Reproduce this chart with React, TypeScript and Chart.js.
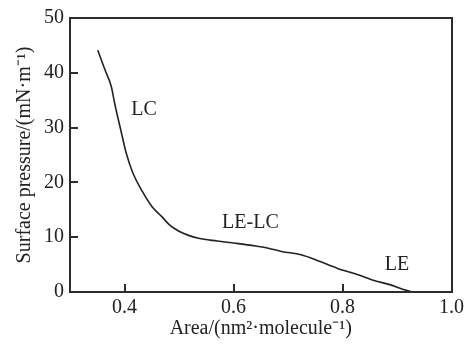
import React, { useEffect, useRef } from "react";
import { Chart, registerables } from "chart.js";

Chart.register(...registerables);

const areas = [0.351, 0.364, 0.376, 0.382, 0.394, 0.403, 0.415, 0.433, 0.451, 0.468, 0.482, 0.5, 0.536, 0.57, 0.603, 0.64, 0.664, 0.688, 0.724, 0.755, 0.791, 0.827, 0.858, 0.888, 0.91, 0.925, 0.94, 0.965];
const pressures = [44.1, 40.6, 37.4, 34.4, 29.2, 25.4, 21.8, 18.3, 15.5, 13.8, 12.3, 11.1, 9.8, 9.3, 8.9, 8.4, 8.0, 7.4, 6.8, 5.7, 4.3, 3.2, 2.1, 1.3, 0.5, 0.1, 0, 0];

const xTickValues = [0.4, 0.6, 0.8, 1.0];
const yTickValues = [0, 10, 20, 30, 40, 50];

const phaseLabels = ["LC", "LE-LC", "LE"];
const phaseX = [0.436, 0.631, 0.9];
const phaseY = [33.2, 12.7, 5.0];

const xTitle = "Area/(nm\u00B2\u00B7molecule\u207B\u00B9)";
const yTitle = "Surface pressure/(mN\u00B7m\u207B\u00B9)";

const FONT = "'Liberation Serif', 'Times New Roman', serif";
const INK = "#222222";
const FRAME = "#2e2a30";

const framePlugin = {
  id: "frameTicks",
  afterDraw(chart: any) {
    const ctx = chart.ctx;
    const area = chart.chartArea;
    const xs = chart.scales.x;
    const ys = chart.scales.y;
    const L = Math.round(area.left);
    const R = Math.round(area.right);
    const T = Math.round(area.top);
    const B = Math.round(area.bottom);
    const w = 2;
    ctx.save();
    ctx.globalAlpha = 1;
    ctx.globalCompositeOperation = "source-over";
    ctx.fillStyle = FRAME;
    ctx.fillRect(L - 1, T - 1, R - L + w, w);
    ctx.fillRect(L - 1, B - 1, R - L + w, w);
    ctx.fillRect(L - 1, T - 1, w, B - T + w);
    ctx.fillRect(R - 1, T - 1, w, B - T + w);
    xTickValues.forEach((v) => {
      const px = Math.round(xs.getPixelForValue(v));
      ctx.fillRect(px - 1, B - 8, w, 8);
    });
    yTickValues.forEach((v) => {
      const py = Math.round(ys.getPixelForValue(v));
      ctx.fillRect(L, py - 1, 8, w);
    });
    ctx.fillStyle = INK;
    ctx.font = `20px ${FONT}`;
    ctx.textAlign = "center";
    ctx.textBaseline = "middle";
    phaseLabels.forEach((lab, i) => {
      ctx.fillText(lab, xs.getPixelForValue(phaseX[i]), ys.getPixelForValue(phaseY[i]));
    });
    ctx.restore();
  },
};

export default function App() {
  const ref = useRef<HTMLCanvasElement | null>(null);
  useEffect(() => {
    if (!ref.current) return;
    const chart = new Chart(ref.current, {
      type: "line",
      data: {
        datasets: [
          {
            data: areas.map((a, i) => ({ x: a, y: pressures[i] })),
            borderColor: INK,
            borderWidth: 1.6,
            pointRadius: 0,
            tension: 0.3,
            cubicInterpolationMode: "monotone",
            fill: false,
            clip: 4,
          },
        ],
      },
      options: {
        animation: false,
        responsive: true,
        maintainAspectRatio: false,
        layout: { padding: { top: 8, right: 14, left: 0, bottom: 0 } },
        plugins: { legend: { display: false }, tooltip: { enabled: false } },
        scales: {
          x: {
            type: "linear",
            min: 0.3,
            max: 1.0,
            afterBuildTicks: (s: any) => {
              s.ticks = xTickValues.map((v) => ({ value: v }));
            },
            afterFit: (s: any) => {
              s.height = 52;
            },
            grid: { display: false, drawTicks: false, tickLength: 0 },
            border: { display: false },
            ticks: {
              padding: 4,
              color: INK,
              font: { family: FONT, size: 20 },
              maxRotation: 0,
              callback: (v: any) => Number(v).toFixed(1),
            },
            title: {
              display: true,
              text: xTitle,
              color: INK,
              font: { family: FONT, size: 20 },
              padding: { top: 0, bottom: 3 },
            },
          },
          y: {
            type: "linear",
            min: 0,
            max: 50,
            afterBuildTicks: (s: any) => {
              s.ticks = yTickValues.map((v) => ({ value: v }));
            },
            afterFit: (s: any) => {
              s.width = 70;
            },
            grid: { display: false, drawTicks: false, tickLength: 0 },
            border: { display: false },
            ticks: {
              padding: 6,
              color: INK,
              font: { family: FONT, size: 20 },
              callback: (v: any) => String(v),
            },
            title: {
              display: true,
              text: yTitle,
              color: INK,
              font: { family: FONT, size: 20 },
              padding: { top: 13, bottom: 0 },
            },
          },
        },
      },
      plugins: [framePlugin],
    } as any);
    return () => chart.destroy();
  }, []);
  return (
    <div style={{ position: "fixed", left: 0, top: 0, width: 468, height: 344, background: "#fff" }}>
      <canvas ref={ref} />
    </div>
  );
}
